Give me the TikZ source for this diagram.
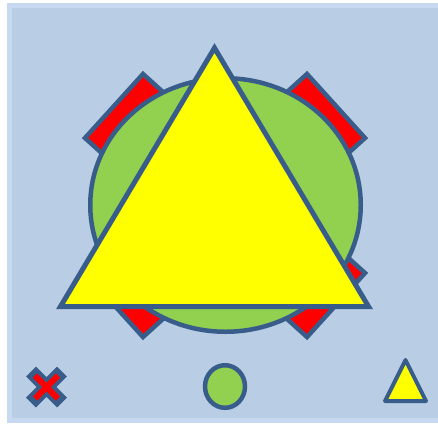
\documentclass[tikz,border=0pt]{standalone}
\definecolor{bgfill}{HTML}{B9CDE5}
\definecolor{bgline}{HTML}{C6D9F1}
\definecolor{outl}{HTML}{385D8A}
\definecolor{grn}{HTML}{92D050}
\definecolor{yel}{HTML}{FFFF00}
\definecolor{rd}{HTML}{FF0000}
\tikzset{
  shapeline/.style={draw=outl, line width=4.5pt},
  strip/.style={shapeline, fill=rd},
}
\begin{document}
\begin{tikzpicture}[x=1pt,y=-1pt]
\useasboundingbox (0,0) rectangle (438,424);
\clip (0,0) rectangle (438,424);
% background panel
\fill[white] (0,0) rectangle (438,424);
\draw[fill=bgfill, draw=bgline, line width=5pt] (9.5,5.5) rectangle (450,420.5);
% four red strips (mirrored about the centre)
\foreach \sx/\sy in {1/1,-1/1,1/-1,-1/-1}{
  \begin{scope}[shift={(225,205.5)}, xscale=\sx, yscale=\sy, shift={(-225,-205.5)}]
    \draw[strip] (143,74) -- (85,138) -- (111,161.5) -- (169,97.5) -- cycle;
  \end{scope}
}
% big green circle
\draw[shapeline, fill=grn] (225.5,205) ellipse [x radius=135.25, y radius=126.75];
% big yellow triangle
\draw[shapeline, line width=5pt, fill=yel] (214.5,48) -- (368.5,306.5) -- (60.5,306.5) -- cycle;
% small red cross
\draw[outl, line width=14pt] (31,371.5) -- (62,402.5) (62,371.5) -- (31,402.5);
\draw[rd, line width=6pt] (35.1,375.6) -- (57.9,398.4) (57.9,375.6) -- (35.1,398.4);
% small green circle
\draw[shapeline, fill=grn] (225,386.5) ellipse [x radius=20, y radius=21.3];
% small yellow triangle
\draw[shapeline, line width=4pt, line join=round, fill=yel] (405.5,360) -- (426,401) -- (385,401) -- cycle;
\end{tikzpicture}
\end{document}
